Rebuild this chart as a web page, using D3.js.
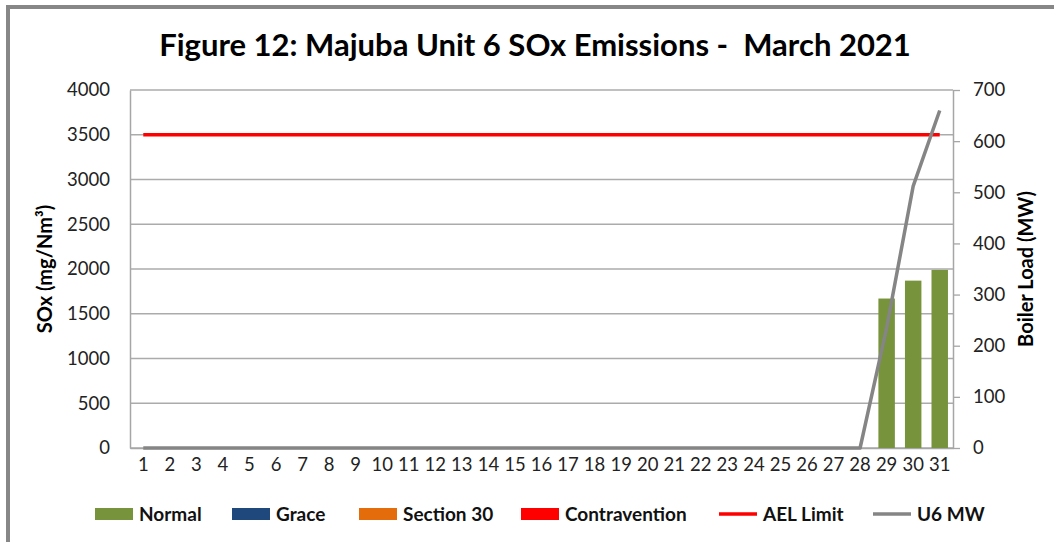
<!DOCTYPE html>
<html>
<head>
<meta charset="utf-8">
<script src="https://d3js.org/d3.v7.min.js"></script>
<style>
  body { margin: 0; background: #fff; }
  svg { display: block; }
  text { font-family: Lato, "Open Sans", sans-serif; }
</style>
</head>
<body>
<div id="my_dataviz"></div>
<script>
// data
var days = ["1","2","3","4","5","6","7","8","9","10","11","12","13","14","15","16",
            "17","18","19","20","21","22","23","24","25","26","27","28","29","30","31"];
var normal = [0,0,0,0,0,0,0,0,0,0,0,0,0,0,0,0,0,0,0,0,0,0,0,0,0,0,0,0,1670,1870,1990];
var grace = [0,0,0,0,0,0,0,0,0,0,0,0,0,0,0,0,0,0,0,0,0,0,0,0,0,0,0,0,0,0,0];
var section30 = [0,0,0,0,0,0,0,0,0,0,0,0,0,0,0,0,0,0,0,0,0,0,0,0,0,0,0,0,0,0,0];
var contravention = [0,0,0,0,0,0,0,0,0,0,0,0,0,0,0,0,0,0,0,0,0,0,0,0,0,0,0,0,0,0,0];
var aelLimit = [3500,3500,3500,3500,3500,3500,3500,3500,3500,3500,3500,3500,3500,3500,3500,3500,
                3500,3500,3500,3500,3500,3500,3500,3500,3500,3500,3500,3500,3500,3500,3500];
var u6mw = [0,0,0,0,0,0,0,0,0,0,0,0,0,0,0,0,0,0,0,0,0,0,0,0,0,0,0,0,235,512,660];
var soxTicks = [0,500,1000,1500,2000,2500,3000,3500,4000];
var mwTicks = [0,100,200,300,400,500,600,700];

var keys = ["Normal","Grace","Section 30","Contravention"];
var colors = ["#77933C","#1F497D","#E46C0A","#FF0000"];

// set the dimensions and margins of the graph
var W = 1054, H = 542;
var margin = {top: 90, left: 130, right: 101, bottom: 94},
    width = W - margin.left - margin.right,
    height = H - margin.top - margin.bottom;

var root = d3.select("#my_dataviz")
  .append("svg")
    .attr("width", W)
    .attr("height", H);

// outer frame (only top and left edges show in the picture)
root.append("line").attr("x1", 6).attr("x2", W).attr("y1", 7).attr("y2", 7)
  .attr("stroke", "#878787").attr("stroke-width", 4);
root.append("line").attr("x1", 8).attr("x2", 8).attr("y1", 5).attr("y2", H)
  .attr("stroke", "#878787").attr("stroke-width", 4);

// title
root.append("text")
  .attr("x", 535).attr("y", 56)
  .attr("text-anchor", "middle")
  .style("font-size", "31px")
  .style("font-weight", "bold")
  .style("white-space", "pre")
  .attr("fill", "#000")
  .text("Figure 12: Majuba Unit 6 SOx Emissions -  March 2021");

var svg = root.append("g")
  .attr("transform", "translate(" + margin.left + "," + margin.top + ")");

// scales
var x = d3.scaleBand().domain(days).range([0, width]).paddingInner(0.38).paddingOuter(0.19);
var y = d3.scaleLinear().domain([0, 4000]).range([height, 0]);
var y2 = d3.scaleLinear().domain([0, 700]).range([height, 0]);

// gridlines
svg.append("g")
  .selectAll("line")
  .data(soxTicks)
  .enter().append("line")
    .attr("x1", 0).attr("x2", width)
    .attr("y1", function(d) { return y(d); })
    .attr("y2", function(d) { return y(d); })
    .attr("stroke", "#ababab").attr("stroke-width", 1.3);

// left axis
var yAxis = svg.append("g")
  .call(d3.axisLeft(y).tickValues(soxTicks).tickFormat(d3.format("d")).tickSize(0).tickPadding(20));
yAxis.select(".domain").attr("stroke", "#a6a6a6").attr("stroke-width", 1.5);
yAxis.selectAll("text").style("font-size", "18.5px").attr("fill", "#222");

// right axis
var y2Axis = svg.append("g")
  .attr("transform", "translate(" + width + ",0)")
  .call(d3.axisRight(y2).tickValues(mwTicks).tickSize(7).tickSizeOuter(0).tickPadding(13));
y2Axis.select(".domain").attr("stroke", "#a6a6a6").attr("stroke-width", 1.5);
y2Axis.selectAll(".tick line").attr("stroke", "#a6a6a6").attr("stroke-width", 1.3);
y2Axis.selectAll("text").style("font-size", "18.5px").attr("fill", "#222");

// bottom axis
var xAxis = svg.append("g")
  .attr("transform", "translate(0," + height + ")")
  .call(d3.axisBottom(x).tickSize(0).tickPadding(10));
xAxis.select(".domain").attr("stroke", "#a6a6a6").attr("stroke-width", 1.5);
xAxis.selectAll("text").style("font-size", "18.5px").attr("fill", "#222");

// axis titles
svg.append("text")
  .attr("transform", "translate(-78," + (height / 2) + ") rotate(-90)")
  .attr("text-anchor", "middle")
  .style("font-size", "20px").style("font-weight", "bold")
  .text("SOx (mg/Nm³)");
svg.append("text")
  .attr("transform", "translate(" + (width + 80) + "," + (height / 2) + ") rotate(-90)")
  .attr("text-anchor", "middle")
  .style("font-size", "20px").style("font-weight", "bold")
  .text("Boiler Load (MW)");

// stacked bars
var table = days.map(function(d, i) {
  return {day: d, "Normal": normal[i], "Grace": grace[i], "Section 30": section30[i], "Contravention": contravention[i]};
});
var stacked = d3.stack().keys(keys)(table);
svg.append("g")
  .selectAll("g")
  .data(stacked)
  .enter().append("g")
    .attr("fill", function(d, i) { return colors[i]; })
  .selectAll("rect")
  .data(function(d) { return d; })
  .enter().append("rect")
    .attr("x", function(d) { return x(d.data.day); })
    .attr("width", x.bandwidth())
    .attr("y", function(d) { return y(d[1]); })
    .attr("height", function(d) { return y(d[0]) - y(d[1]); });

// AEL limit line
var lineL = d3.line()
  .x(function(d, i) { return x(days[i]) + x.bandwidth() / 2; })
  .y(function(d) { return y(d); });
svg.append("path")
  .datum(aelLimit)
  .attr("fill", "none").attr("stroke", "#FF0000").attr("stroke-width", 3.5)
  .attr("d", lineL);

// U6 MW line
var lineR = d3.line()
  .x(function(d, i) { return x(days[i]) + x.bandwidth() / 2; })
  .y(function(d) { return y2(d); });
svg.append("path")
  .datum(u6mw)
  .attr("fill", "none").attr("stroke", "#858585").attr("stroke-width", 3.5)
  .attr("stroke-linejoin", "round")
  .attr("d", lineR);

// legend
var legendItems = [
  {name: "Normal", color: colors[0], type: "box", x: 95},
  {name: "Grace", color: colors[1], type: "box", x: 232},
  {name: "Section 30", color: colors[2], type: "box", x: 359},
  {name: "Contravention", color: colors[3], type: "box", x: 521},
  {name: "AEL Limit", color: "#FF0000", type: "line", x: 719},
  {name: "U6 MW", color: "#858585", type: "line", x: 873}
];
var legend = root.append("g");
var li = legend.selectAll("g").data(legendItems).enter().append("g")
  .attr("transform", function(d) { return "translate(" + d.x + ",514)"; });
li.filter(function(d) { return d.type == "box"; })
  .append("rect")
    .attr("x", 0).attr("y", -6).attr("width", 38).attr("height", 12)
    .attr("fill", function(d) { return d.color; });
li.filter(function(d) { return d.type == "line"; })
  .append("line")
    .attr("x1", 0).attr("x2", 38).attr("y1", 0).attr("y2", 0)
    .attr("stroke", function(d) { return d.color; }).attr("stroke-width", 3.5);
li.append("text")
  .attr("x", 44).attr("y", 7)
  .style("font-size", "19px").style("font-weight", "bold")
  .attr("fill", "#111")
  .text(function(d) { return d.name; });
</script>
</body>
</html>
